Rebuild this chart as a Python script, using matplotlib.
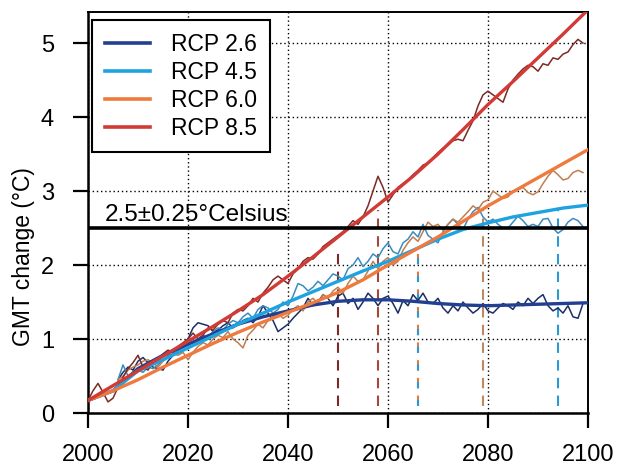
import matplotlib
matplotlib.use("Agg")
import matplotlib.pyplot as plt
import numpy as np

plt.rcParams['font.family'] = ['Liberation Sans', 'DejaVu Sans']

# smoothed curves (every 5 years)
smooth_years = list(range(2000, 2101, 5))
rcp26_smooth = [0.17, 0.30, 0.60, 0.78, 0.93, 1.07, 1.20, 1.30, 1.38, 1.46, 1.51, 1.53, 1.53,
                1.51, 1.48, 1.46, 1.45, 1.46, 1.47, 1.48, 1.49]
rcp45_smooth = [0.17, 0.30, 0.57, 0.72, 0.88, 1.04, 1.20, 1.35, 1.50, 1.64, 1.78, 1.92, 2.05,
                2.20, 2.35, 2.48, 2.57, 2.65, 2.71, 2.77, 2.81]
rcp60_smooth = [0.17, 0.30, 0.45, 0.62, 0.78, 0.94, 1.09, 1.23, 1.36, 1.49, 1.63, 1.80, 2.00,
                2.19, 2.38, 2.59, 2.80, 2.99, 3.18, 3.37, 3.56]
rcp85_smooth = [0.17, 0.37, 0.57, 0.77, 0.97, 1.17, 1.38, 1.60, 1.85, 2.11, 2.38, 2.65, 2.92,
                3.20, 3.50, 3.83, 4.17, 4.48, 4.80, 5.12, 5.45]

# annual values
years_85 = list(range(2000, 2100))
rcp85_raw = [0.17, 0.30, 0.40, 0.28, 0.15, 0.20, 0.35, 0.48, 0.60, 0.68,
             0.78, 0.62, 0.58, 0.70, 0.72, 0.80, 0.85, 0.82, 0.90, 0.95,
             1.00, 1.08, 1.00, 1.05, 1.15, 1.12, 1.20, 1.25, 1.22, 1.35,
             1.40, 1.38, 1.45, 1.55, 1.50, 1.62, 1.70, 1.80, 1.85, 1.80,
             1.75, 1.88, 1.95, 2.05, 2.10, 2.08, 2.15, 2.25, 2.30, 2.35,
             2.40, 2.45, 2.52, 2.60, 2.55, 2.65, 2.80, 3.00, 3.20, 3.05,
             2.85, 2.95, 3.05, 3.10, 3.15, 3.22, 3.28, 3.35, 3.38, 3.45,
             3.52, 3.58, 3.62, 3.68, 3.70, 3.68, 3.82, 3.95, 4.15, 4.30,
             4.35, 4.30, 4.25, 4.20, 4.38, 4.50, 4.58, 4.65, 4.70, 4.68,
             4.62, 4.72, 4.70, 4.80, 4.78, 4.85, 4.88, 4.98, 5.05, 5.00]

years_rcp = list(range(2006, 2100))
rcp26_raw = [0.45, 0.55, 0.62, 0.58,
             0.70, 0.75, 0.68, 0.62, 0.60, 0.58, 0.70, 0.78, 0.85, 0.90,
             1.00, 1.15, 1.22, 1.20, 1.18, 1.10, 1.12, 1.18, 1.22, 1.15,
             1.20, 1.25, 1.28, 1.22, 1.30, 1.45, 1.35, 1.25, 1.10, 1.15,
             1.20, 1.28, 1.35, 1.42, 1.55, 1.45, 1.50, 1.60, 1.55, 1.45,
             1.58, 1.62, 1.48, 1.55, 1.40, 1.50, 1.62, 1.55, 1.45, 1.55,
             1.58, 1.48, 1.35, 1.52, 1.45, 1.60, 1.52, 1.62, 1.50, 1.48,
             1.55, 1.42, 1.35, 1.45, 1.38, 1.50, 1.42, 1.35, 1.40, 1.48,
             1.38, 1.35, 1.42, 1.48, 1.45, 1.40, 1.50, 1.45, 1.55, 1.48,
             1.55, 1.60, 1.45, 1.38, 1.42, 1.35, 1.45, 1.30, 1.28, 1.48]
rcp45_raw = [0.45, 0.65, 0.50, 0.55,
             0.58, 0.55, 0.62, 0.60, 0.65, 0.72, 0.78, 0.80, 0.85, 0.88,
             0.92, 0.95, 1.00, 1.05, 1.02, 1.10, 1.15, 1.12, 1.20, 1.25,
             1.22, 1.30, 1.35, 1.28, 1.40, 1.45, 1.42, 1.35, 1.40, 1.50,
             1.45, 1.58, 1.75, 1.72, 1.65, 1.70, 1.78, 1.72, 1.80, 1.88,
             1.85, 1.80, 1.95, 2.00, 2.10, 1.98, 2.05, 2.15, 2.10, 2.22,
             2.30, 2.18, 2.15, 2.30, 2.35, 2.45, 2.38, 2.55, 2.40, 2.35,
             2.30, 2.45, 2.55, 2.62, 2.55, 2.48, 2.62, 2.72, 2.78, 2.65,
             2.58, 2.62, 2.55, 2.50, 2.50, 2.58, 2.66, 2.60, 2.52, 2.55,
             2.52, 2.62, 2.63, 2.50, 2.43, 2.48, 2.58, 2.63, 2.60, 2.52]
rcp60_raw = [0.45, 0.50, 0.58, 0.62,
             0.65, 0.70, 0.72, 0.68, 0.62, 0.70, 0.75, 0.80, 0.78, 0.82,
             0.72, 0.82, 0.90, 0.95, 0.92, 1.00, 1.05, 1.02, 1.10, 1.00,
             0.95, 0.88, 1.05, 1.12, 1.20, 1.15, 1.25, 1.30, 1.35, 1.28,
             1.32, 1.40, 1.45, 1.38, 1.50, 1.55, 1.48, 1.60, 1.55, 1.65,
             1.70, 1.62, 1.75, 1.85, 1.78, 1.80, 1.92, 2.05, 1.95, 2.05,
             2.10, 2.00, 2.05, 2.20, 2.30, 2.38, 2.32, 2.45, 2.58, 2.52,
             2.55, 2.47, 2.55, 2.62, 2.58, 2.65, 2.72, 2.80, 2.75, 2.85,
             2.88, 3.00, 2.95, 2.90, 2.92, 3.00, 3.02, 3.05, 2.98, 2.95,
             2.99, 3.10, 3.20, 3.28, 3.22, 3.15, 3.17, 3.25, 3.28, 3.25]

# threshold crossing years
cross_years = [2050, 2058, 2066, 2066, 2079, 2094]
cross_tops = [2.25, 2.75, 2.25, 2.25, 2.75, 2.75]
cross_colors = ['#7b2a2a', '#a5473a', '#e07a45', '#2a9ad0', '#c08860', '#2a9ad0']

labels = ['RCP 2.6', 'RCP 4.5', 'RCP 6.0', 'RCP 8.5']
c_smooth = ['#233f8f', '#1ea3e0', '#ee7a3e', '#d23a35']
c_raw = ['#1c2e66', '#3a8cc0', '#c07e50', '#7b2a25']

fig = plt.figure(figsize=(6.17, 4.65), dpi=100)
ax = fig.add_axes([88 / 617, 52 / 465, 500 / 617, 401 / 465])

ax.grid(True, color='black', linestyle=(0, (1, 2)), linewidth=1.0)
ax.set_axisbelow(True)

for i, (yr, top, col) in enumerate(zip(cross_years, cross_tops, cross_colors)):
    dash = (0, (3, 5.5)) if i == 3 else (0, (5, 3.5))
    ax.plot([yr, yr], [0.1, top], color=col, linewidth=1.5, linestyle=dash, zorder=2)

raws = [(years_rcp, rcp26_raw), (years_rcp, rcp45_raw), (years_rcp, rcp60_raw), (years_85, rcp85_raw)]
for (x, y), c in zip(raws, c_raw):
    ax.plot(x, y, color=c, linewidth=1.1, zorder=3)

smooths = [rcp26_smooth, rcp45_smooth, rcp60_smooth, rcp85_smooth]
for y, c, lab in zip(smooths, c_smooth, labels):
    ax.plot(smooth_years, y, color=c, linewidth=2.4, label=lab, zorder=4)

ax.axhline(2.5, color='black', linewidth=2.6, zorder=5)
ax.text(2003.4, 2.59, '2.5\u00b10.25\u00b0Celsius', fontsize=17.5, zorder=6)

ax.set_xlim(2000, 2100)
ax.set_ylim(0, 5.42)
ax.set_xticks(range(2000, 2101, 20))
ax.set_yticks(range(0, 6))
ax.tick_params(axis='both', direction='out', length=10.5, width=1.6, labelsize=17)
ax.tick_params(axis='x', pad=12)
ax.tick_params(axis='y', pad=14)
for s in ['left', 'bottom']:
    ax.spines[s].set_linewidth(1.8)
for s in ['top', 'right']:
    ax.spines[s].set_linewidth(1.4)

ax.set_ylabel('GMT change (\u00b0C)', fontsize=16.5)
ax.yaxis.set_label_coords(-0.105, 0.39)

leg = ax.legend(loc='upper left', bbox_to_anchor=(0.008, 0.98), fontsize=16.5, frameon=True,
                fancybox=False, edgecolor='black', framealpha=1, borderaxespad=0,
                handlelength=2.0, handletextpad=0.9, labelspacing=0.22, borderpad=0.55)
leg.get_frame().set_linewidth(1.5)
for h in leg.get_lines():
    h.set_linewidth(2.6)

fig.savefig('out.png', dpi=100)
